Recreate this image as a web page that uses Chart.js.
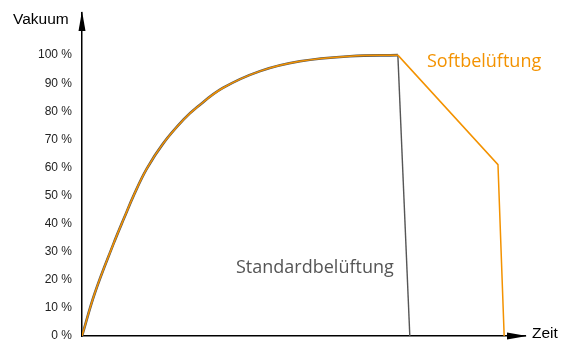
<!DOCTYPE html>
<html>
<head>
<meta charset="utf-8">
<script src="https://cdn.jsdelivr.net/npm/chart.js@4"></script>
<style>
  html, body { margin: 0; padding: 0; background: #fff; }
  #wrap { width: 564px; height: 340px; }
</style>
</head>
<body>
<div id="wrap"><canvas id="chart"></canvas></div>
<script>
// values (time in arbitrary units 0..100, vacuum in %)
const riseTime = [0, 2.9, 7.1, 9.5, 11.8, 14.6, 18.3, 22.9, 26, 31.8, 40.2, 49.2, 60.5, 71.3];
const riseVacuum = [0, 15.3, 32.8, 42, 50.5, 59.5, 68.5, 77, 81.5, 88.3, 94.3, 97.8, 99.6, 100];
const standardTime = [71.3, 74];
const standardVacuum = [100, 0];
const softTime = [71.3, 93.9, 95.3];
const softVacuum = [100, 61, 0];
const yTicks = [0, 10, 20, 30, 40, 50, 60, 70, 80, 90, 100];

const ORANGE = '#f39200';
const GREY = '#555555';

function toPoints(xs, ys) {
  return xs.map((x, i) => ({ x: x, y: ys[i] }));
}

// arrows at the axis ends plus the free texts
const decorations = {
  id: 'decorations',
  afterDraw(chart) {
    const ctx = chart.ctx;
    const a = chart.chartArea;
    ctx.save();
    ctx.fillStyle = '#000';
    // y arrow
    ctx.beginPath();
    ctx.moveTo(a.left, a.top - 2);
    ctx.lineTo(a.left - 3.5, a.top + 18);
    ctx.lineTo(a.left + 3.5, a.top + 18);
    ctx.closePath();
    ctx.fill();
    // x arrow
    ctx.beginPath();
    ctx.moveTo(a.right + 2, a.bottom);
    ctx.lineTo(a.right - 18, a.bottom - 3.5);
    ctx.lineTo(a.right - 18, a.bottom + 3.5);
    ctx.closePath();
    ctx.fill();

    ctx.font = '15.5px "Liberation Sans", Arial, sans-serif';
    ctx.fillStyle = '#000';
    ctx.textBaseline = 'middle';
    ctx.textAlign = 'left';
    ctx.fillText('Vakuum', 13, 20);
    ctx.fillText('Zeit', 532, 334);

    ctx.font = '18px "Open Sans", sans-serif';
    ctx.fillStyle = ORANGE;
    ctx.fillText('Softbelüftung', 427, 62);
    ctx.fillStyle = GREY;
    ctx.fillText('Standardbelüftung', 236, 268);
    ctx.restore();
  }
};

new Chart(document.getElementById('chart'), {
  type: 'line',
  data: {
    datasets: [
      { data: toPoints(riseTime, riseVacuum), borderColor: GREY, borderWidth: 2.6, tension: 0.4, order: 3 },
      { data: toPoints(standardTime, standardVacuum), borderColor: GREY, borderWidth: 1.4, tension: 0, order: 2 },
      { data: toPoints(riseTime, riseVacuum), borderColor: ORANGE, borderWidth: 1.5, tension: 0.4, order: 1 },
      { data: toPoints(softTime, softVacuum), borderColor: ORANGE, borderWidth: 1.5, tension: 0, order: 0 }
    ]
  },
  options: {
    responsive: true,
    maintainAspectRatio: false,
    animation: false,
    events: [],
    layout: { padding: { left: 0, top: 13, right: 39, bottom: 4 } },
    elements: { point: { radius: 0 } },
    plugins: { legend: { display: false }, tooltip: { enabled: false } },
    scales: {
      x: {
        type: 'linear',
        min: 0,
        max: 100,
        grid: { display: false, drawTicks: false },
        border: { color: '#000', width: 1.5 },
        ticks: { display: false },
        afterFit(s) { s.height = 0; }
      },
      y: {
        min: 0,
        max: 115,
        grid: { display: false, drawTicks: false },
        border: { color: '#000', width: 1.5 },
        afterFit(s) {
          s.width = 82;
          s.paddingTop = 0;
          s.paddingBottom = 0;
        },
        afterBuildTicks(s) { s.ticks = yTicks.map(v => ({ value: v })); },
        ticks: {
          padding: 10,
          color: '#222',
          font: { family: '"Liberation Sans", Arial, sans-serif', size: 12 },
          callback: v => v + ' %'
        }
      }
    }
  },
  plugins: [decorations]
});
</script>
</body>
</html>
